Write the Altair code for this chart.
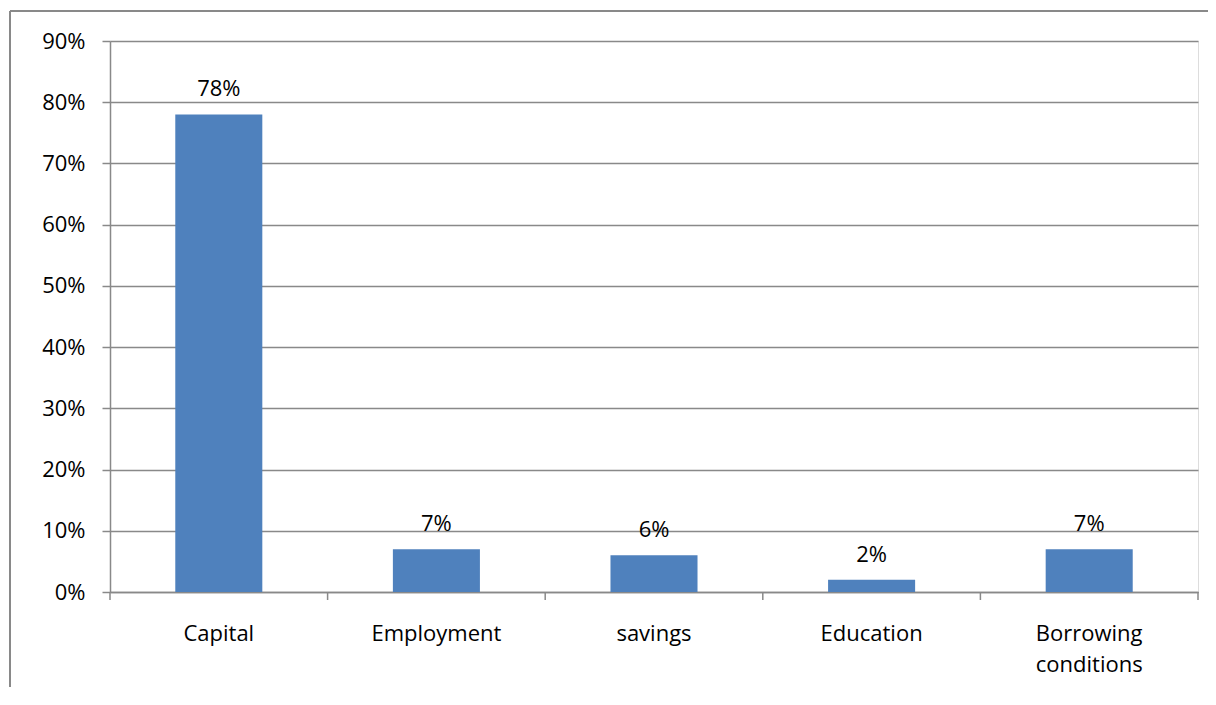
import altair as alt
import pandas as pd

categories = ["Capital", "Employment", "savings", "Education", "Borrowing\nconditions"]
values = [0.78, 0.07, 0.06, 0.02, 0.07]
boundaries = [0, 1, 2, 3, 4, 5]

df = pd.DataFrame({"cat": categories, "val": values})
bdf = pd.DataFrame({"b": boundaries})

FONT = "Open Sans"
FS = 22
GRAY = "#898989"
W, H = 1088, 551

xscale = alt.Scale(domain=categories, paddingInner=0.6, paddingOuter=0.3)
yscale = alt.Scale(domain=[0, 0.9])

bars = alt.Chart(df).mark_bar(color="#4F81BD").encode(
    x=alt.X("cat:N", scale=xscale, sort=None, title=None,
            axis=alt.Axis(labelAngle=0, ticks=False, domain=True, domainColor=GRAY,
                          domainWidth=1.5, labelPadding=31, labelFont=FONT,
                          labelFontSize=FS, labelColor="#000000", labelBaseline="top",
                          labelLineHeight=31,
                          labelExpr="split(datum.label, '\\n')")),
    y=alt.Y("val:Q", scale=yscale, title=None,
            axis=alt.Axis(values=[0, 0.1, 0.2, 0.3, 0.4, 0.5, 0.6, 0.7, 0.8, 0.9],
                          format=".0%", grid=True, gridColor=GRAY, gridWidth=1.5,
                          domainColor=GRAY, domainWidth=1.5, tickColor=GRAY,
                          tickWidth=1.5, tickSize=8, labelPadding=17, labelFont=FONT,
                          labelFontSize=FS, labelColor="#000000")),
)

labels = alt.Chart(df).mark_text(font=FONT, fontSize=FS, color="#000000",
                                  baseline="alphabetic", dy=-18).encode(
    x=alt.X("cat:N", scale=xscale, sort=None, axis=None),
    y=alt.Y("val:Q", scale=yscale),
    text=alt.Text("val:Q", format=".0%"),
)

ticks = alt.Chart(bdf).mark_rule(color=GRAY, strokeWidth=1.5).encode(
    x=alt.X("b:Q", scale=alt.Scale(domain=[0, 5]), axis=None),
    y=alt.value(H),
    y2=alt.value(H + 8),
)

frame_top = alt.Chart(bdf).mark_rule(color=GRAY, strokeWidth=2, yOffset=-30).encode(
    x=alt.value(-100), x2=alt.value(W + 200), y=alt.datum(0.9)
)
frame_left = alt.Chart(bdf).mark_rule(color=GRAY, strokeWidth=2, yOffset=-30).encode(
    x=alt.value(-100), y=alt.datum(0.9), y2=alt.value(H + 200)
)

chart = alt.layer(bars, labels, ticks, frame_top, frame_left).resolve_scale(
    x="independent"
).properties(
    width=W, height=H,
    autosize=alt.AutoSizeParams(type="none"),
    padding={"left": 102, "top": 33, "right": 10, "bottom": 95},
).configure_view(stroke=None).configure(background="white")

chart.save("out.html", embed_options={"renderer": "svg", "actions": False})
